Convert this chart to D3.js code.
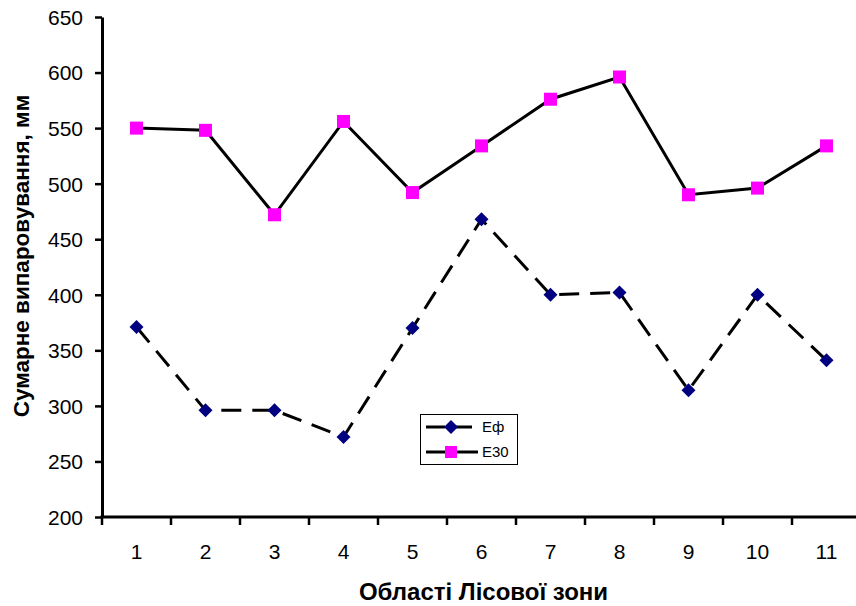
<!DOCTYPE html>
<html><head><meta charset="utf-8">
<script src="https://cdn.jsdelivr.net/npm/d3@7"></script>
<style>body{margin:0;background:#fff}svg{display:block}</style>
</head><body>
<svg id="c" width="856" height="606"></svg>
<script>
const categories = ["1","2","3","4","5","6","7","8","9","10","11"];
const seriesNames = ["Еф","Е30"];
const ef  = [371, 296, 296, 272, 370, 468, 400, 402, 314, 400, 341];
const e30 = [550, 548, 472, 556, 492, 534, 576, 596, 490, 496, 534];
const yTicks = [200,250,300,350,400,450,500,550,600,650];
const xTitle = "Області Лісової зони";
const yTitle = "Сумарне випаровування, мм";

const svg = d3.select("#c");
const font = "Arial, 'Liberation Sans', sans-serif";
const L = 102, R = 861, T = 17, B = 517;

const x = d3.scaleBand().domain(categories).range([L, R]).paddingInner(0).paddingOuter(0);
const y = d3.scaleLinear().domain([200, 650]).range([B, T]);
const cx = d => x(d) + x.bandwidth() / 2;

// Y axis
const ya = svg.append("g").attr("transform", `translate(${L},0)`)
  .call(d3.axisLeft(y).tickValues(yTicks).tickSize(7).tickPadding(12).tickSizeOuter(0));
ya.select(".domain").attr("stroke", "#000").attr("stroke-width", 3);
ya.selectAll(".tick line").attr("stroke", "#000").attr("stroke-width", 2.5);
ya.selectAll(".tick text").attr("font-family", font).attr("font-size", 21).attr("fill", "#000").attr("dy", "0.35em");

// X axis: labels at centers, ticks at band boundaries
const xa = svg.append("g").attr("transform", `translate(0,${B})`)
  .call(d3.axisBottom(x).tickSize(0).tickPadding(27).tickSizeOuter(0));
xa.select(".domain").remove();
xa.selectAll(".tick text").attr("font-family", font).attr("font-size", 21).attr("fill", "#000");
svg.append("g").selectAll("line").data(categories).join("line")
  .attr("x1", d => x(d)).attr("x2", d => x(d)).attr("y1", B).attr("y2", B + 8)
  .attr("stroke", "#000").attr("stroke-width", 2.5);
svg.append("line").attr("x1", L - 1.5).attr("x2", R).attr("y1", B).attr("y2", B)
  .attr("stroke", "#000").attr("stroke-width", 3);

// Lines
const line = d3.line().x((d, i) => cx(categories[i])).y(d => y(d));
svg.append("path").datum(e30).attr("d", line).attr("fill", "none")
  .attr("stroke", "#000").attr("stroke-width", 3);
svg.append("path").datum(ef).attr("d", line).attr("fill", "none")
  .attr("stroke", "#000").attr("stroke-width", 3).attr("stroke-dasharray", "20,11");

// Markers
const sq = 13, dm = 7;
svg.append("g").selectAll("rect").data(e30).join("rect")
  .attr("x", (d, i) => cx(categories[i]) - sq / 2).attr("y", d => y(d) - sq / 2)
  .attr("width", sq).attr("height", sq).attr("fill", "#FF00FF");
const diamond = (px, py, r) => `M${px},${py - r}L${px + r},${py}L${px},${py + r}L${px - r},${py}Z`;
svg.append("g").selectAll("path").data(ef).join("path")
  .attr("d", (d, i) => diamond(cx(categories[i]), y(d), dm)).attr("fill", "#000080");

// Legend
const lg = svg.append("g");
lg.append("rect").attr("x", 420.5).attr("y", 414.5).attr("width", 97).attr("height", 50)
  .attr("fill", "#fff").attr("stroke", "#000").attr("stroke-width", 1);
const rows = [
  {name: seriesNames[0], y: 427, dash: "19,8", marker: "d"},
  {name: seriesNames[1], y: 452, dash: null, marker: "s"}
];
rows.forEach(r => {
  const ln = lg.append("line").attr("x1", 426).attr("x2", 478).attr("y1", r.y).attr("y2", r.y)
    .attr("stroke", "#000").attr("stroke-width", 3);
  if (r.dash) ln.attr("stroke-dasharray", r.dash);
  if (r.marker === "d") lg.append("path").attr("d", diamond(451, r.y, 7)).attr("fill", "#000080");
  else lg.append("rect").attr("x", 451 - 6).attr("y", r.y - 6).attr("width", 12).attr("height", 12).attr("fill", "#FF00FF");
  lg.append("text").attr("x", 482).attr("y", r.y).attr("dy", "0.36em")
    .attr("font-family", font).attr("font-size", 15).text(r.name);
});

// Titles
svg.append("text").attr("x", 483.5).attr("y", 600).attr("text-anchor", "middle")
  .attr("font-family", font).attr("font-weight", "bold").attr("font-size", 24).text(xTitle);
svg.append("text").attr("transform", `translate(29,256) rotate(-90)`).attr("text-anchor", "middle")
  .attr("font-family", font).attr("font-weight", "bold").attr("font-size", 22.5).text(yTitle);
</script>
</body></html>
